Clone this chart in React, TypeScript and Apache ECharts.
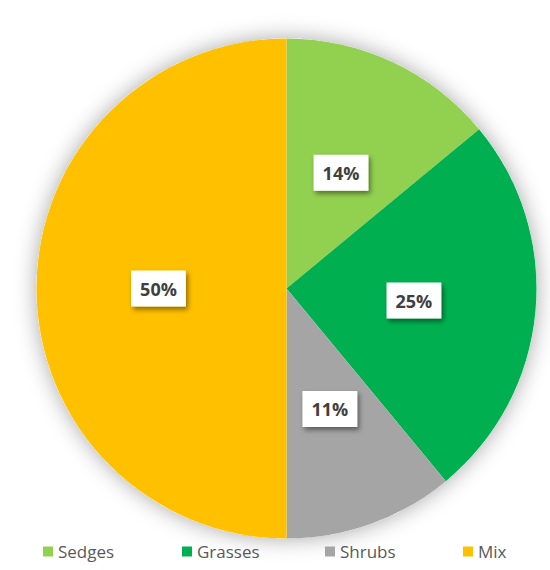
import React, { useEffect, useRef } from "react";
import * as echarts from "echarts";

const categories = ["Sedges", "Grasses", "Shrubs", "Mix"];
const values = [14, 25, 11, 50];
const colors = ["#92D050", "#00B050", "#A5A5A5", "#FFC000"];
const legendLefts = [38, 177, 320, 458];

export default function App() {
  const ref = useRef<HTMLDivElement>(null);
  useEffect(() => {
    if (!ref.current) return;
    const chart = echarts.init(ref.current, undefined, { renderer: "svg" });
    const center = [286.5, 288.5];
    const radius = 250;
    chart.setOption({
      animation: false,
      backgroundColor: "#ffffff",
      legend: categories.map((c, i) => ({
        data: [c],
        left: legendLefts[i],
        top: 538,
        itemWidth: 10,
        itemHeight: 10,
        icon: "rect",
        selectedMode: false,
        textStyle: {
          fontFamily: "Open Sans",
          fontSize: 17,
          color: "#595959",
        },
      })),
      series: [
        {
          type: "pie",
          silent: true,
          center,
          radius,
          z: 1,
          label: { show: false },
          labelLine: { show: false },
          itemStyle: {
            color: "#ffffff",
            shadowBlur: 22,
            shadowColor: "rgba(0,0,0,0.35)",
          },
          data: [{ name: "__bg", value: 1 }],
        },
        {
          type: "pie",
          center,
          radius,
          z: 2,
          startAngle: 90,
          clockwise: true,
          data: categories.map((c, i) => ({
            name: c,
            value: values[i],
            itemStyle: { color: colors[i] },
          })),
          label: {
            show: true,
            position: "inside",
            formatter: "{c}%",
            fontFamily: "Open Sans",
            fontWeight: "bold",
            fontSize: 18,
            lineHeight: 18,
            color: "#404040",
            backgroundColor: "#ffffff",
            padding: [9, 9],
            shadowColor: "rgba(0,0,0,0.45)",
            shadowBlur: 5,
            shadowOffsetX: 2,
            shadowOffsetY: 3,
          },
          labelLine: { show: false },
          emphasis: { disabled: true },
        },
      ],
    });
    return () => chart.dispose();
  }, []);
  return (
    <div
      ref={ref}
      style={{ position: "fixed", left: 0, top: 0, width: 550, height: 570 }}
    />
  );
}
